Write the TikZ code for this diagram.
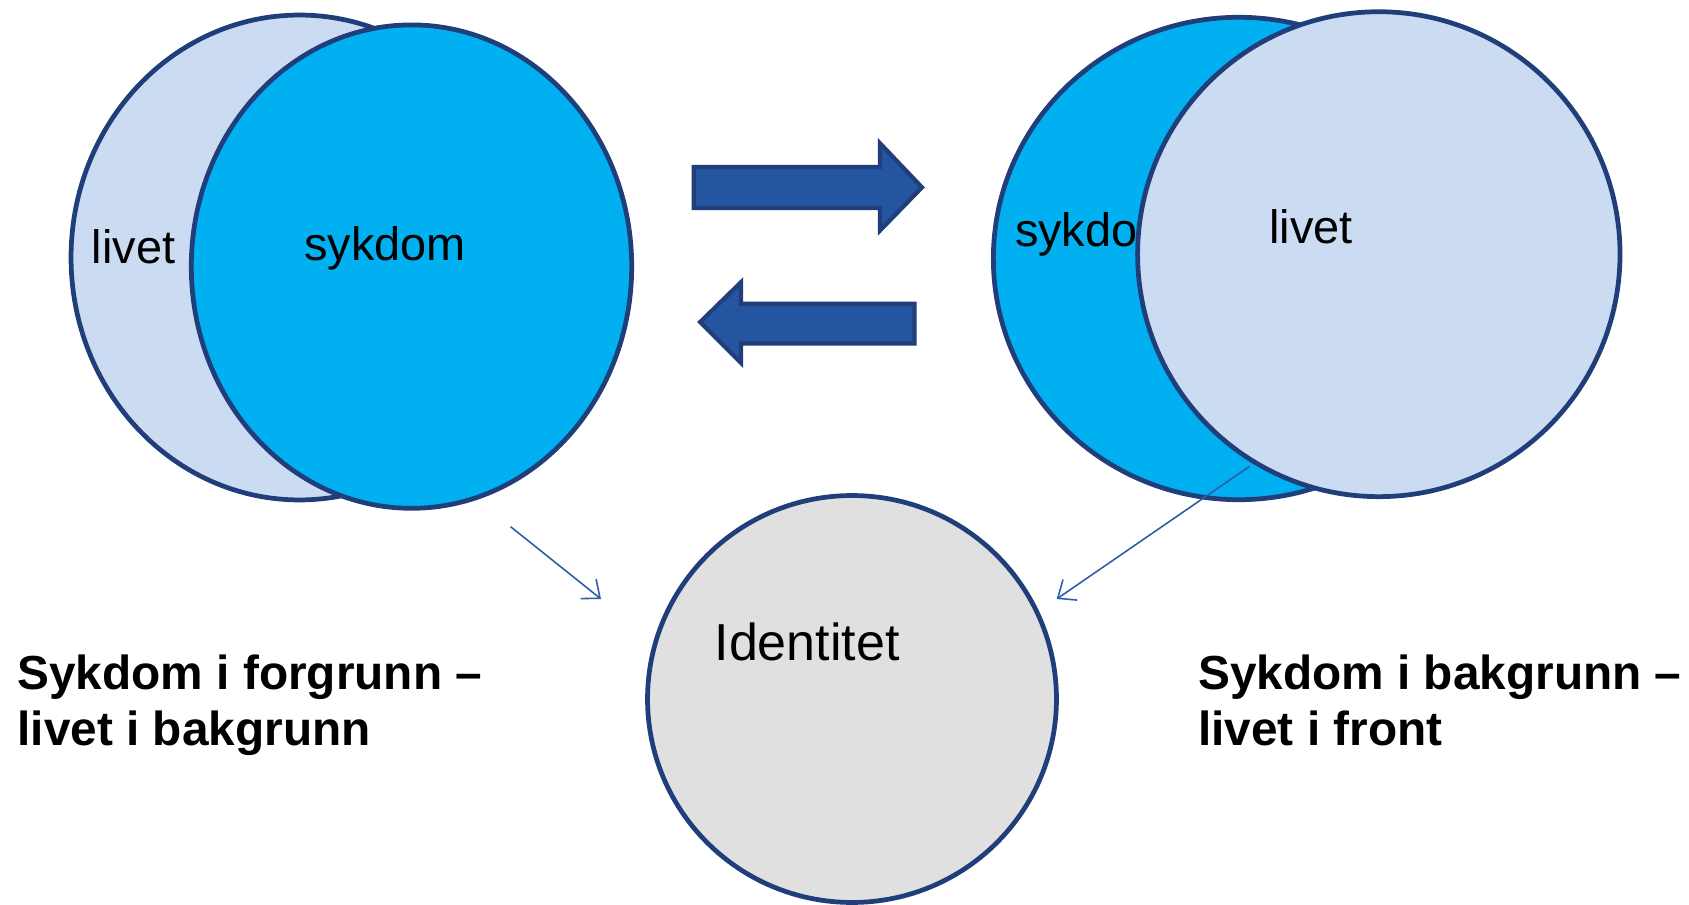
\documentclass[tikz,border=0pt]{standalone}
\usepackage{fontspec}
\setmainfont{Liberation Sans}
\usetikzlibrary{arrows.meta,shapes.geometric}
\definecolor{idnavy}{HTML}{1F3E7A}
\definecolor{idcyan}{HTML}{00B0F0}
\definecolor{idpale}{HTML}{CADBF2}
\definecolor{idgrey}{HTML}{E0E0E0}
\definecolor{idarrow}{HTML}{2455A0}
\definecolor{idline}{HTML}{2E5CA8}

\begin{document}
\begin{tikzpicture}[x=0.02cm, y=-0.02cm,
  disc/.style={ellipse, draw=idnavy, line width=2.7pt, inner sep=0pt},
  word/.style={anchor=base west, inner sep=0pt, font=\fontsize{26.7}{32}\selectfont},
  caption/.style={anchor=base west, inner sep=0pt, font=\fontsize{27.2}{32}\selectfont\bfseries},
  bigarrow/.style={fill=idarrow, draw=idnavy, line width=2.4pt, line join=miter},
  link/.style={draw=idline, line width=0.9pt, -{Straight Barb[length=3mm,width=5mm]}},
  ]
  \useasboundingbox (0,0) rectangle (1689,905);

  % sickness in front
  \node[disc, fill=idpale, minimum width=9.14cm, minimum height=9.70cm] (lback) at (299.5,257.5) {};
  \node[word] (llive) at (91.6,264) {livet};
  \node[disc, fill=idcyan, minimum width=8.81cm, minimum height=9.67cm] (lfront) at (411.5,266.6) {};
  \node[word] (lsick) at (303.8,260.7) {sykdom};

  % life in front
  \node[disc, fill=idcyan, minimum width=9.82cm, minimum height=9.65cm] (rback) at (1238.8,258.5) {};
  \node[word] (rsick) at (1014.7,246.7) {sykdo};
  \node[disc, fill=idpale, minimum width=9.65cm, minimum height=9.70cm] (rfront) at (1378.8,254.2) {};
  \node[word] (rlive) at (1269,243.4) {livet};

  \node[disc, fill=idgrey, minimum width=8.18cm, minimum height=8.14cm] (ident) at (852,699) {};
  \node[word, font=\fontsize{29.6}{34}\selectfont] (identtxt) at (714.2,660.3) {Identitet};

  % block arrows
  \draw[bigarrow] (693.7,167) -- (880,167) -- (880,143.3) -- (922,187.4)
    -- (880,230.5) -- (880,208) -- (693.7,208) -- cycle;
  \draw[bigarrow] (914.5,303.8) -- (741,303.8) -- (741,282.2) -- (700.2,322)
    -- (741,363) -- (741,343.6) -- (914.5,343.6) -- cycle;

  \coordinate (lfrom) at (510.6,526.7);
  \coordinate (lto) at (601,599);
  \coordinate (rfrom) at (1249.5,466.4);
  \coordinate (rto) at (1056.7,599);
  \draw[link] (lfrom) -- (lto);
  \draw[link] (rfrom) -- (rto);

  \node[caption] (lcap1) at (17.2,689.4) {Sykdom i forgrunn –};
  \node[caption] (lcap2) at (17.2,745.4) {livet i bakgrunn};
  \node[caption] (rcap1) at (1197.8,689.4) {Sykdom i bakgrunn –};
  \node[caption] (rcap2) at (1197.8,745.4) {livet i front};
\end{tikzpicture}
\end{document}
